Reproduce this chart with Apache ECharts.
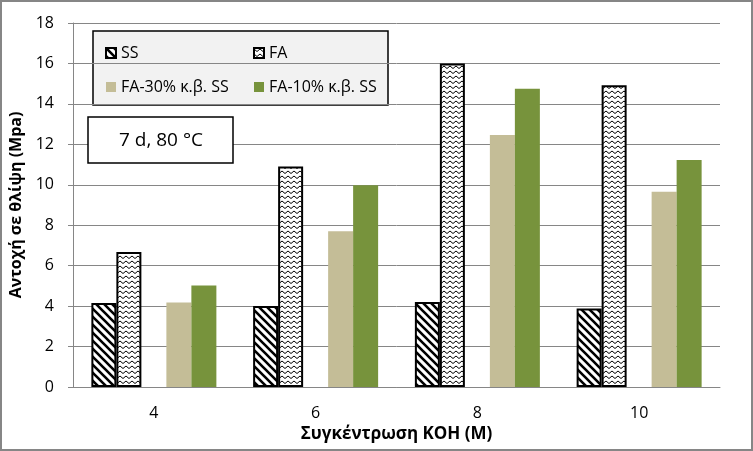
<!DOCTYPE html>
<html>
<head>
<meta charset="utf-8">
<script src="https://cdn.jsdelivr.net/npm/echarts@6/dist/echarts.min.js"></script>
<style>
html, body { margin: 0; padding: 0; background: #fff; }
#chart { width: 753px; height: 451px; }
</style>
</head>
<body>
<div id="chart"></div>
<script>
var categories = ['4', '6', '8', '10'];
var ssData = [4.15, 4.0, 4.2, 3.88];
var faData = [6.68, 10.9, 16.0, 14.92];
var fa30Data = [4.18, 7.7, 12.46, 9.66];
var fa10Data = [5.02, 9.98, 14.75, 11.22];
var gapData = ['-', '-', '-', '-'];

var font = '"Open Sans", "Noto Sans", sans-serif';

// hatch for SS
function hatchPattern() {
	var c = document.createElement('canvas');
	c.width = 8;
	c.height = 8;
	var ctx = c.getContext('2d');
	ctx.fillStyle = '#fff';
	ctx.fillRect(0, 0, 8, 8);
	ctx.strokeStyle = '#000';
	ctx.lineWidth = 2.6;
	ctx.beginPath();
	ctx.moveTo(-2, -2); ctx.lineTo(10, 10);
	ctx.moveTo(-2, 6); ctx.lineTo(2, 10);
	ctx.moveTo(6, -2); ctx.lineTo(10, 2);
	ctx.stroke();
	return c;
}

// zigzag for FA
function zigzagPattern() {
	var c = document.createElement('canvas');
	c.width = 6;
	c.height = 5;
	var ctx = c.getContext('2d');
	ctx.fillStyle = '#fff';
	ctx.fillRect(0, 0, 6, 5);
	ctx.strokeStyle = '#000';
	ctx.lineWidth = 1;
	ctx.beginPath();
	ctx.moveTo(0, 1);
	ctx.lineTo(3, 3.5);
	ctx.lineTo(6, 1);
	ctx.stroke();
	return c;
}

var chart = echarts.init(document.getElementById('chart'));

var legendText = { fontFamily: font, fontSize: 16, color: '#000' };

var option = {
	animation: false,
	backgroundColor: '#fff',
	grid: {
		left: 73,
		right: 33,
		top: 23,
		bottom: 64
	},
	legend: [{
		orient: 'vertical',
		left: 100,
		top: 40,
		itemWidth: 10,
		itemHeight: 10,
		itemGap: 18,
		icon: 'rect',
		selectedMode: false,
		textStyle: legendText,
		data: ['SS', 'FA-30% κ.β. SS']
	}, {
		orient: 'vertical',
		left: 248,
		top: 40,
		itemWidth: 10,
		itemHeight: 10,
		itemGap: 18,
		icon: 'rect',
		selectedMode: false,
		textStyle: legendText,
		data: ['FA', 'FA-10% κ.β. SS']
	}],
	xAxis: {
		type: 'category',
		data: categories,
		name: 'Συγκέντρωση KOH (M)',
		nameLocation: 'middle',
		nameGap: 38,
		nameTextStyle: { fontFamily: font, fontSize: 17, fontWeight: 'bold', color: '#000' },
		axisLine: { lineStyle: { color: '#868686', width: 1 } },
		axisTick: { length: 5, lineStyle: { color: '#868686' } },
		axisLabel: { fontFamily: font, fontSize: 16, color: '#000', margin: 18 }
	},
	yAxis: {
		type: 'value',
		min: 0,
		max: 18,
		interval: 2,
		name: 'Αντοχή σε θλίψη (Mpa)',
		nameLocation: 'middle',
		nameGap: 44,
		nameTextStyle: { fontFamily: font, fontSize: 16, fontWeight: 'bold', color: '#000' },
		axisLine: { show: true, lineStyle: { color: '#868686', width: 1 } },
		axisTick: { show: true, length: 5, lineStyle: { color: '#868686' } },
		axisLabel: { fontFamily: font, fontSize: 16, color: '#000', margin: 19 },
		splitLine: { lineStyle: { color: '#868686', width: 1 } }
	},
	series: [{
		name: 'SS',
		type: 'bar',
		barWidth: 25,
		barGap: 0,
		itemStyle: {
			color: { image: hatchPattern(), repeat: 'repeat' },
			borderColor: '#000',
			borderWidth: 2
		},
		data: ssData
	}, {
		name: 'FA',
		type: 'bar',
		barWidth: 25,
		barGap: 0,
		itemStyle: {
			color: { image: zigzagPattern(), repeat: 'repeat' },
			borderColor: '#000',
			borderWidth: 2
		},
		data: faData
	}, {
		name: 'gap',
		type: 'bar',
		barWidth: 25,
		barGap: 0,
		data: gapData
	}, {
		name: 'FA-30% κ.β. SS',
		type: 'bar',
		barWidth: 25,
		barGap: 0,
		itemStyle: { color: '#c4bd97' },
		data: fa30Data
	}, {
		name: 'FA-10% κ.β. SS',
		type: 'bar',
		barWidth: 25,
		barGap: 0,
		itemStyle: { color: '#77933c' },
		data: fa10Data
	}],
	graphic: [{
		type: 'rect',
		z: -1,
		shape: { x: 93, y: 31, width: 295, height: 74 },
		style: { fill: '#f2f2f2', stroke: '#000', lineWidth: 1.5 }
	}, {
		type: 'rect',
		z: 10,
		shape: { x: 88, y: 117, width: 145, height: 46 },
		style: { fill: '#fff', stroke: '#000', lineWidth: 1.5 }
	}, {
		type: 'text',
		z: 11,
		x: 161,
		y: 141,
		style: {
			text: '7 d, 80 °C',
			fontFamily: font,
			fontSize: 19,
			fill: '#000',
			align: 'center',
			verticalAlign: 'middle'
		}
	}, {
		type: 'rect',
		z: 20,
		silent: true,
		shape: { x: 1, y: 1, width: 751, height: 449 },
		style: { fill: 'none', stroke: '#868686', lineWidth: 2 }
	}]
};

chart.setOption(option);
</script>
</body>
</html>
